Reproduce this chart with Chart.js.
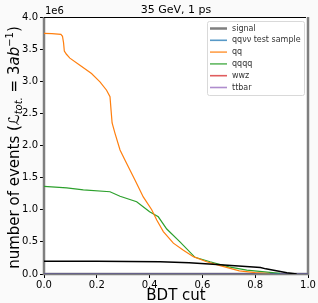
<!DOCTYPE html>
<html>
<head>
<meta charset="utf-8">
<script src="https://cdn.jsdelivr.net/npm/chart.js@4.4.0/dist/chart.umd.min.js"></script>
<style>
  html, body { margin: 0; padding: 0; background: #fafafa; }
  canvas { display: block; }
</style>
</head>
<body>
<canvas id="bdtChart" width="318" height="303"></canvas>
<script>
// ----- data (events in units of 1e6) -----
const signalX = [0, 0, 1, 1];
const signalY = [4.0, 0, 0, 4.0];

const qqX = [0, 0.03, 0.064, 0.07, 0.074, 0.077, 0.085, 0.098, 0.136, 0.18, 0.212, 0.237, 0.25, 0.254, 0.258, 0.269, 0.288, 0.307, 0.345, 0.376, 0.408, 0.427, 0.452, 0.49, 0.528, 0.566, 0.616, 0.667, 0.74, 0.8, 0.856];
const qqY = [3.745, 3.74, 3.73, 3.70, 3.60, 3.47, 3.42, 3.36, 3.25, 3.12, 2.99, 2.86, 2.76, 2.55, 2.35, 2.19, 1.93, 1.77, 1.46, 1.20, 1.00, 0.84, 0.66, 0.48, 0.37, 0.27, 0.19, 0.13, 0.05, 0.02, 0.005];

const qqqqX = [0, 0.086, 0.149, 0.25, 0.288, 0.351, 0.40, 0.433, 0.465, 0.515, 0.572, 0.629, 0.70, 0.768, 0.894];
const qqqqY = [1.365, 1.34, 1.31, 1.28, 1.21, 1.125, 0.97, 0.89, 0.70, 0.50, 0.26, 0.19, 0.11, 0.06, 0.01];

const otherX = [0, 0.2, 0.44, 0.55, 0.64, 0.82, 0.84, 0.92, 0.957];
const otherY = [0.20, 0.198, 0.19, 0.175, 0.15, 0.10, 0.08, 0.02, 0];

const zeroX = [0, 1];
const qqvvY = [0, 0];
const wwzY = [0, 0];
const ttbarY = [0, 0];

const xTicks = [0, 0.2, 0.4, 0.6, 0.8, 1.0];
const yTicks = [0, 0.5, 1.0, 1.5, 2.0, 2.5, 3.0, 3.5, 4.0];

function pts(xs, ys) {
    return xs.map((x, i) => ({ x: x, y: ys[i] * 1e6 }));
}

const FONT = "'DejaVu Sans', sans-serif";

// legend + title + axis labels drawn by hand (matplotlib look)
const decorPlugin = {
    id: 'decor',
    afterDraw(chart) {
        const ctx = chart.ctx;
        const area = chart.chartArea;
        ctx.save();

        // top spine
        ctx.strokeStyle = '#000';
        ctx.lineWidth = 1;
        ctx.beginPath();
        ctx.moveTo(area.left, area.top + 0.5);
        ctx.lineTo(area.right - 2, area.top + 0.5);
        ctx.stroke();

        ctx.fillStyle = '#000';
        ctx.textBaseline = 'alphabetic';

        // title
        ctx.font = '11px ' + FONT;
        ctx.textAlign = 'center';
        ctx.fillText('35 GeV, 1 ps', (area.left + area.right) / 2, 13);

        // offset text
        ctx.font = '10px ' + FONT;
        ctx.textAlign = 'left';
        ctx.fillText('1e6', area.left + 1, 14);

        // x label
        ctx.font = '15px ' + FONT;
        ctx.textAlign = 'center';
        ctx.fillText('BDT cut', (area.left + area.right) / 2, 300);

        // y label with math
        ctx.translate(19, (area.top + area.bottom) / 2 + 2);
        ctx.rotate(-Math.PI / 2);
        const parts = [
            { t: 'number of events (', f: '15px ' + FONT, dy: 0 },
            { t: 'ℒ', f: 'italic 15px ' + FONT, dy: 0 },
            { t: 'tot.', f: 'italic 10px ' + FONT, dy: 3 },
            { t: ' = 3', f: '15px ' + FONT, dy: 0 },
            { t: 'ab', f: 'italic 15px ' + FONT, dy: 0 },
            { t: '−1', f: '10px ' + FONT, dy: -6 },
            { t: ')', f: '15px ' + FONT, dy: 0 }
        ];
        let total = 0;
        parts.forEach(p => { ctx.font = p.f; p.w = ctx.measureText(p.t).width; total += p.w; });
        let x = -total / 2;
        ctx.textAlign = 'left';
        parts.forEach(p => {
            ctx.font = p.f;
            ctx.fillText(p.t, x, p.dy);
            x += p.w;
        });
        ctx.restore();

        // legend box
        ctx.save();
        const lx = 207, ly = 21, lw = 97, lh = 74;
        ctx.fillStyle = 'rgba(255,255,255,0.8)';
        ctx.strokeStyle = '#d9d9d9';
        ctx.lineWidth = 1;
        ctx.beginPath();
        ctx.roundRect(lx + 0.5, ly + 0.5, lw, lh, 2);
        ctx.fill();
        ctx.stroke();
        ctx.font = '8px ' + FONT;
        ctx.textBaseline = 'middle';
        ctx.textAlign = 'left';
        let row = 0;
        chart.data.datasets.forEach(ds => {
            if (!ds.label) return;
            const yy = ly + 7.5 + row * 11.8;
            ctx.strokeStyle = ds.borderColor;
            ctx.globalAlpha = ds.label === 'signal' ? 1 : 0.75;
            ctx.lineWidth = ds.label === 'signal' ? 2.5 : 1.6;
            ctx.beginPath();
            ctx.moveTo(lx + 3, yy);
            ctx.lineTo(lx + 20, yy);
            ctx.stroke();
            ctx.globalAlpha = 1;
            ctx.fillStyle = '#333';
            ctx.fillText(ds.label, lx + 25, yy);
            row++;
        });
        ctx.restore();
    }
};

const bgPlugin = {
    id: 'plotBg',
    beforeDraw(chart) {
        const a = chart.chartArea;
        chart.ctx.save();
        chart.ctx.fillStyle = '#ffffff';
        chart.ctx.fillRect(a.left, a.top, a.right - a.left, a.bottom - a.top);
        chart.ctx.restore();
    }
};

function lineSet(label, data, color, width, extra) {
    return Object.assign({
        label: label,
        data: data,
        borderColor: color,
        backgroundColor: color,
        borderWidth: width,
        pointRadius: 0,
        tension: 0,
        fill: false
    }, extra || {});
}

new Chart(document.getElementById('bdtChart'), {
    type: 'line',
    data: {
        datasets: [
            lineSet('', pts(otherX, otherY), '#000000', 1.5),
            lineSet('signal', pts(signalX, signalY), '#7f7f7f', 2.5, { clip: 4, order: 5 }),
            lineSet('qqνν test sample', pts(zeroX, qqvvY), '#1f77b4', 1.2),
            lineSet('qq', pts(qqX, qqY), '#ff7f0e', 1.2),
            lineSet('qqqq', pts(qqqqX, qqqqY), '#2ca02c', 1.2),
            lineSet('wwz', pts(zeroX, wwzY), '#d62728', 1.2),
            lineSet('ttbar', pts(zeroX, ttbarY), '#9467bd', 1.2)
        ]
    },
    options: {
        responsive: false,
        animation: false,
        layout: { padding: { top: 17, right: 10, left: 0, bottom: 0 } },
        plugins: {
            legend: { display: false },
            tooltip: { enabled: false }
        },
        scales: {
            x: {
                type: 'linear',
                min: 0,
                max: 1,
                afterFit: s => { s.height = 29; },
                afterBuildTicks: s => { s.ticks = xTicks.map(v => ({ value: v })); },
                ticks: {
                    color: '#000',
                    font: { family: FONT, size: 10 },
                    padding: 1,
                    maxRotation: 0,
                    callback: v => v.toFixed(1)
                },
                grid: { drawOnChartArea: false, drawTicks: true, tickLength: 4, color: '#000' },
                border: { display: true, color: '#000', width: 1 }
            },
            y: {
                type: 'linear',
                min: 0,
                max: 4e6,
                afterFit: s => { s.width = 44; },
                afterBuildTicks: s => { s.ticks = yTicks.map(v => ({ value: v * 1e6 })); },
                ticks: {
                    color: '#000',
                    font: { family: FONT, size: 10 },
                    padding: 2,
                    callback: v => (v / 1e6).toFixed(1)
                },
                grid: { drawOnChartArea: false, drawTicks: true, tickLength: 4, color: '#000' },
                border: { display: true, color: '#000', width: 1 }
            }
        }
    },
    plugins: [bgPlugin, decorPlugin]
});
</script>
</body>
</html>
